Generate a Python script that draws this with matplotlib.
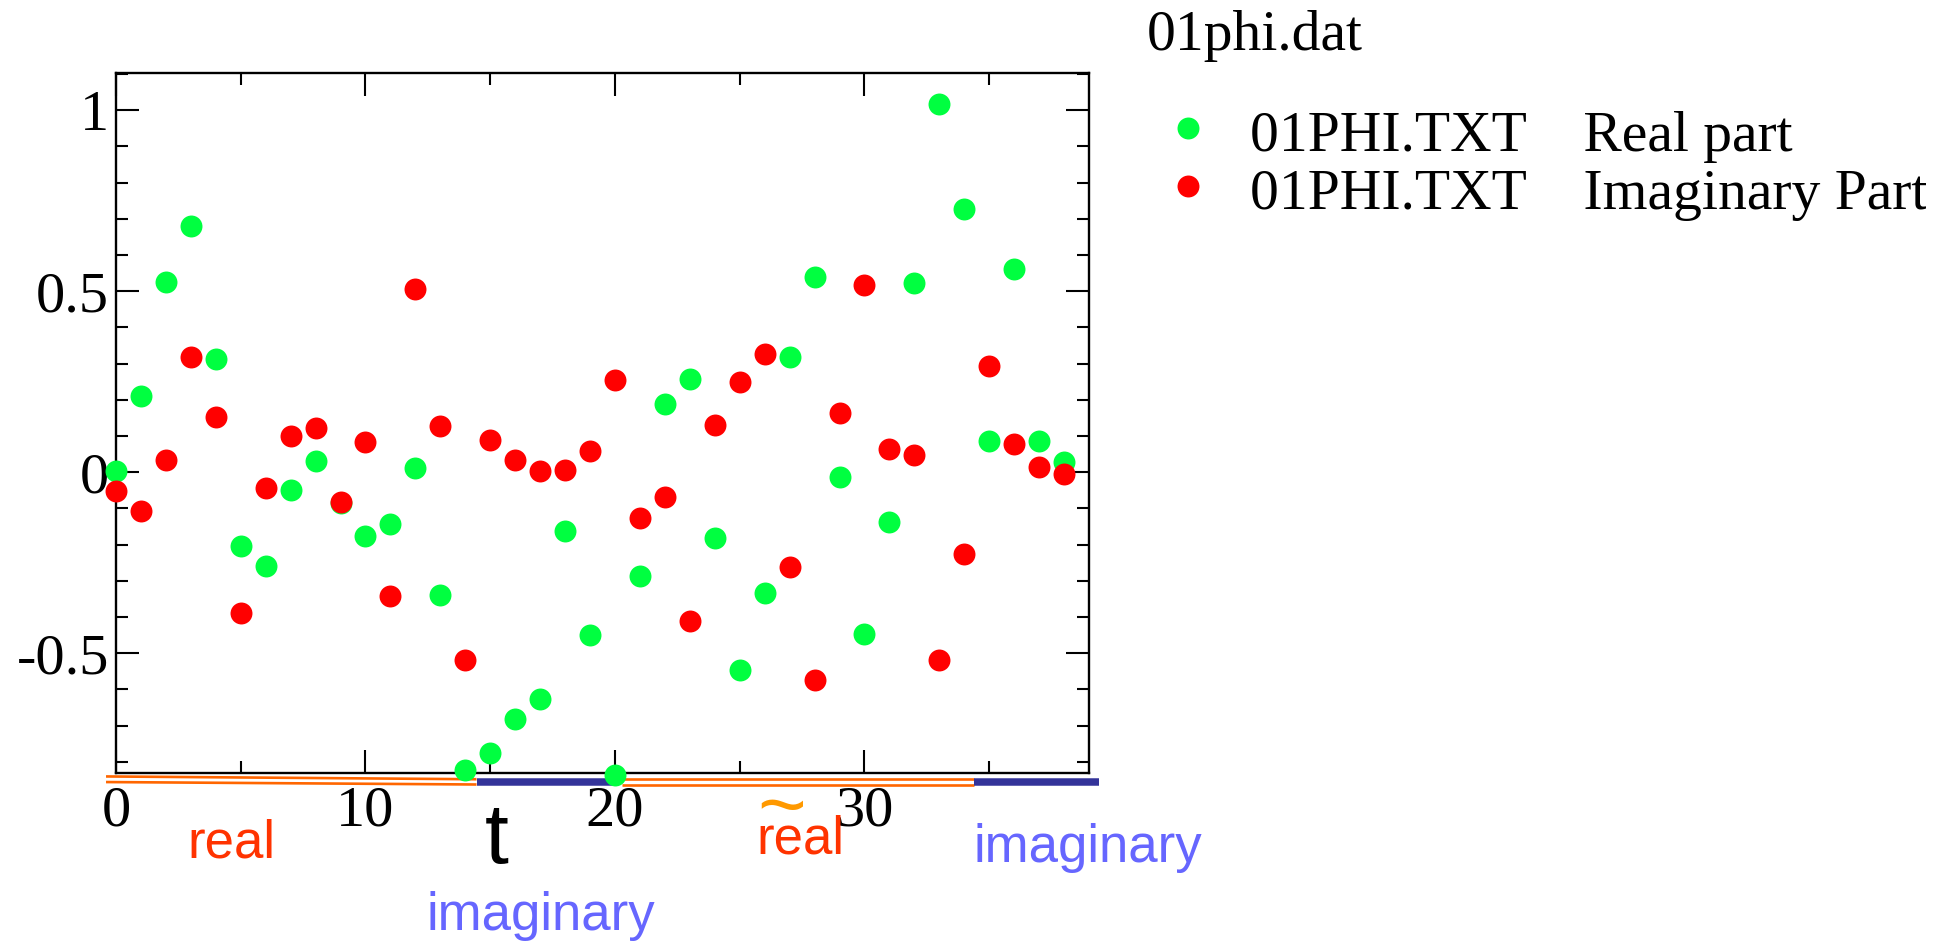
import matplotlib
matplotlib.use("Agg")
import matplotlib.pyplot as plt
from matplotlib.lines import Line2D
from matplotlib.ticker import MultipleLocator, FuncFormatter
from matplotlib.transforms import Bbox, TransformedBbox, blended_transform_factory

# ---- data -------------------------------------------------------------
t = list(range(39))
real_part = [0.002, 0.210, 0.526, 0.680, 0.312, -0.205, -0.260, -0.050, 0.030, -0.085,
             -0.177, -0.143, 0.012, -0.340, -0.824, -0.775, -0.683, -0.628, -0.163, -0.449,
             -0.837, -0.286, 0.187, 0.258, -0.182, -0.546, -0.333, 0.318, 0.540, -0.014,
             -0.447, -0.137, 0.524, 1.017, 0.727, 0.086, 0.561, 0.087, 0.027]
imag_part = [-0.053, -0.108, 0.033, 0.319, 0.153, -0.388, -0.045, 0.101, 0.121, -0.082,
             0.082, -0.341, 0.507, 0.128, -0.518, 0.088, 0.033, 0.004, 0.007, 0.058,
             0.255, -0.128, -0.069, -0.412, 0.129, 0.248, 0.326, -0.262, -0.573, 0.163,
             0.516, 0.064, 0.047, -0.519, -0.226, 0.292, 0.078, 0.014, -0.006]

series_labels = ["01PHI.TXT    Real part", "01PHI.TXT    Imaginary Part"]
title_text = "01phi.dat"
x_label = "t"

# time ranges marked as real / imaginary along the time axis
regime_kind = ["real", "imaginary", "real", "imaginary"]
regime_span = [(-0.4, 14.45), (14.45, 20.05), (20.3, 34.4), (34.4, 39.4)]

GREEN = "#00ff40"
RED = "#ff0000"
ORANGE = "#ff6600"
NAVY = "#333399"
REAL_TXT = "#ff3300"
IMAG_TXT = "#6666ff"
TILDE = "#ff9900"

W, H = 1952, 943
plt.rcParams["font.family"] = ["Liberation Serif", "DejaVu Serif"]
plt.rcParams["axes.unicode_minus"] = False

fig = plt.figure(figsize=(W / 100, H / 100), dpi=100)


def fx(px):
    return px / W


def fy(py):
    return 1 - py / H


ax = fig.add_axes([fx(116), fy(773.3), fx(973), 700 / H])
ax.set_xlim(0, 39)
ax.set_ylim(-0.832, 1.102)

ax.plot(t, real_part, "o", color=GREEN, ms=15.8, mec="none", clip_on=False, zorder=4)
ax.plot(t, imag_part, "o", color=RED, ms=15.8, mec="none", clip_on=False, zorder=5)

for s in ax.spines.values():
    s.set_linewidth(1.7)
ax.xaxis.set_major_locator(MultipleLocator(10))
ax.xaxis.set_minor_locator(MultipleLocator(5))
ax.yaxis.set_major_locator(MultipleLocator(0.5))
ax.yaxis.set_minor_locator(MultipleLocator(0.1))
ax.yaxis.set_major_formatter(FuncFormatter(lambda v, p: f"{v:g}"))
ax.tick_params(which="both", direction="in", top=True, right=True, width=1.5,
               labelsize=42)
ax.tick_params(which="major", length=16.5)
ax.tick_params(which="minor", length=8.3)
ax.tick_params(axis="x", pad=9)
ax.tick_params(axis="y", pad=5)

# regime bars under the time axis
bt = blended_transform_factory(ax.transData, ax.transAxes)
for kind, (a, b) in zip(regime_kind, regime_span):
    if kind == "real":
        if a < 0:
            ax.plot([a, b], [-0.0045, -0.0085], color=ORANGE, lw=1.9, transform=bt,
                    clip_on=False, zorder=3, solid_capstyle="butt")
            ax.plot([a, b], [-0.0125, -0.0160], color=ORANGE, lw=1.9, transform=bt,
                    clip_on=False, zorder=3, solid_capstyle="butt")
        else:
            ax.plot([a, b], [-0.0085, -0.0085], color=ORANGE, lw=1.9, transform=bt,
                    clip_on=False, zorder=3, solid_capstyle="butt")
            ax.plot([a, b], [-0.0160, -0.0160], color=ORANGE, lw=1.9, transform=bt,
                    clip_on=False, zorder=3, solid_capstyle="butt")
    else:
        ax.plot([a, b], [-0.0123, -0.0123], color=NAVY, lw=5.4, transform=bt,
                clip_on=False, zorder=3, solid_capstyle="butt")

# annotations
sans = ["Liberation Sans", "DejaVu Sans"]
fig.text(fx(187.7), fy(857), "real", color=REAL_TXT, fontsize=38, family=sans,
         ha="left", va="baseline")
fig.text(fx(485), fy(863), x_label, color="black", fontsize=62, family=sans,
         ha="left", va="baseline")
fig.text(fx(426), fy(930), "imaginary", color=IMAG_TXT, fontsize=38, family=sans,
         ha="left", va="baseline")
fig.text(fx(756.7), fy(853.3), "real", color=REAL_TXT, fontsize=38, family=sans,
         ha="left", va="baseline")
fig.text(fx(757), fy(833), "~", color=TILDE, fontsize=60, family=sans,
         ha="left", va="baseline")
fig.text(fx(973.3), fy(861.7), "imaginary", color=IMAG_TXT, fontsize=38, family=sans,
         ha="left", va="baseline")

# title and legend
fig.text(fx(1147), fy(50), title_text, fontsize=41.5, ha="left", va="baseline")
clip = TransformedBbox(Bbox([[0, 0], [fx(1926), 1]]), fig.transFigure)
for i, (lab, col) in enumerate(zip(series_labels, [GREEN, RED])):
    yb = 150.7 + 58.6 * i
    fig.add_artist(Line2D([fx(1187.7)], [fy(yb - 23)], transform=fig.transFigure,
                          marker="o", ms=15.8, color=col, mec="none"))
    txt = fig.text(fx(1250), fy(yb), lab, fontsize=41.5, ha="left", va="baseline")
    txt.set_clip_box(clip)
    txt.set_clip_on(True)

fig.savefig("out.png", dpi=100)
